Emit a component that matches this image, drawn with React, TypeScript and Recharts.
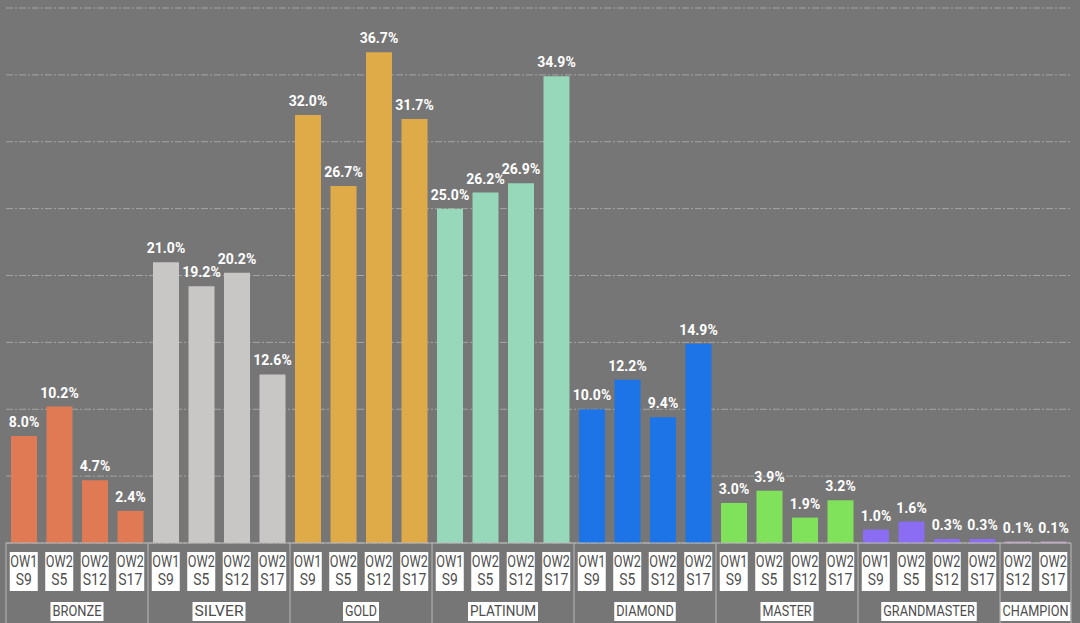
import { Bar, BarChart, CartesianGrid, Cell, LabelList, XAxis, YAxis } from 'recharts'

const GROUPS = ['BRONZE', 'SILVER', 'GOLD', 'PLATINUM', 'DIAMOND', 'MASTER', 'GRANDMASTER', 'CHAMPION']
const GROUP_COLORS = ['#E07A55', '#C9C7C5', '#DFAB48', '#97D8BB', '#1C74E6', '#80E15A', '#8A6DF2', '#D8A2DC']

const SEASONS = ['OW1 S9', 'OW2 S5', 'OW2 S12', 'OW2 S17']
const CHAMPION_SEASONS = ['OW2 S12', 'OW2 S17']

const BRONZE = [8.0, 10.2, 4.7, 2.4]
const SILVER = [21.0, 19.2, 20.2, 12.6]
const GOLD = [32.0, 26.7, 36.7, 31.7]
const PLATINUM = [25.0, 26.2, 26.9, 34.9]
const DIAMOND = [10.0, 12.2, 9.4, 14.9]
const MASTER = [3.0, 3.9, 1.9, 3.2]
const GRANDMASTER = [1.0, 1.6, 0.3, 0.3]
const CHAMPION = [0.1, 0.1]

const Y_TICKS = [0, 5, 10, 15, 20, 25, 30, 35, 40]

const GROUP_VALUES = [BRONZE, SILVER, GOLD, PLATINUM, DIAMOND, MASTER, GRANDMASTER, CHAMPION]

const rows = GROUPS.flatMap((group, g) => {
  const seasons = g === GROUPS.length - 1 ? CHAMPION_SEASONS : SEASONS
  return seasons.map((season, i) => ({
    key: `${group}-${season}`,
    group,
    season,
    value: GROUP_VALUES[g][i],
    color: GROUP_COLORS[g],
    pos: i,
    size: seasons.length,
  }))
})

const WIDTH = 1080
const HEIGHT = 623
const MARGIN = { top: 8, right: 9, left: 6, bottom: 0 }
const AXIS_HEIGHT = 80
const SLOT = (WIDTH - MARGIN.left - MARGIN.right) / rows.length

const BG = '#767676'
const LINE = '#b9b9b9'
const TEXT = '#4d4d4d'

function SeasonTick(props: any) {
  const { x, y, index } = props
  const row = rows[index]
  if (!row) return null
  const [top, bottom] = row.season.split(' ')
  const isLast = index === rows.length - 1
  const groupX = x + ((row.size - 1) / 2) * SLOT
  const groupW = row.group.length * 8.5
  return (
    <g>
      {row.pos === 0 && (
        <line x1={x - SLOT / 2} x2={x - SLOT / 2} y1={y} y2={y + AXIS_HEIGHT} stroke={LINE} strokeWidth={1} />
      )}
      {isLast && (
        <line x1={x + SLOT / 2} x2={x + SLOT / 2} y1={y} y2={y + AXIS_HEIGHT} stroke={LINE} strokeWidth={1} />
      )}
      <rect x={x - 14} y={y + 9} width={28} height={39} fill="#ffffff" />
      <text x={x} y={y + 24} textAnchor="middle" fontSize={16} fill={TEXT} fontFamily="Roboto"
        textLength={27} lengthAdjust="spacingAndGlyphs">
        {top}
      </text>
      <text x={x} y={y + 42} textAnchor="middle" fontSize={16} fill={TEXT} fontFamily="Roboto"
        textLength={bottom.length * 8} lengthAdjust="spacingAndGlyphs">
        {bottom}
      </text>
      {row.pos === 0 && (
        <g>
          <rect x={groupX - groupW / 2 - 1} y={y + 59} width={groupW + 2} height={19} fill="#ffffff" />
          <text x={groupX} y={y + 73} textAnchor="middle" fontSize={15} fill={TEXT} fontFamily="Roboto"
            textLength={groupW - 2} lengthAdjust="spacingAndGlyphs">
            {row.group}
          </text>
        </g>
      )}
    </g>
  )
}

export default function App() {
  return (
    <div style={{ width: WIDTH, height: HEIGHT, background: BG }}>
      <style>{'body{margin:0}'}</style>
      <BarChart width={WIDTH} height={HEIGHT} data={rows} margin={MARGIN}>
        <CartesianGrid vertical={false} stroke={LINE} strokeDasharray="7 2 2 2" strokeOpacity={0.7} />
        <YAxis hide domain={[0, 40]} ticks={Y_TICKS} />
        <XAxis
          dataKey="key"
          interval={0}
          height={AXIS_HEIGHT}
          tickLine={false}
          tickSize={0}
          tickMargin={0}
          axisLine={{ stroke: LINE }}
          tick={SeasonTick}
        />
        <Bar dataKey="value" barSize={26} isAnimationActive={false}>
          {rows.map((row) => (
            <Cell key={row.key} fill={row.color} />
          ))}
          <LabelList
            dataKey="value"
            position="top"
            offset={9}
            fill="#ffffff"
            fontSize={14}
            fontWeight={700}
            fontFamily="Roboto"
            formatter={(v: any) => `${Number(v).toFixed(1)}%`}
          />
        </Bar>
      </BarChart>
    </div>
  )
}
